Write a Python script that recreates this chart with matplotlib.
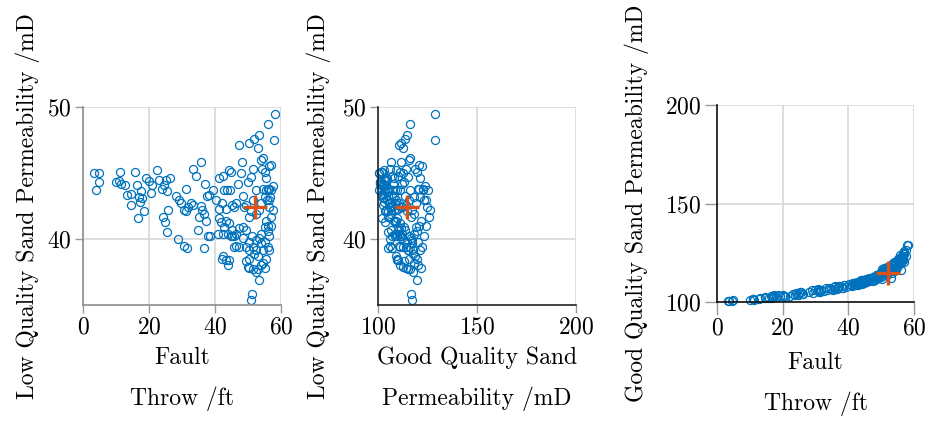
import matplotlib
matplotlib.use("Agg")
import matplotlib.pyplot as plt

plt.rcParams['font.family'] = 'serif'
plt.rcParams['font.serif'] = ['cmr10', 'DejaVu Serif']
plt.rcParams['axes.formatter.use_mathtext'] = True
plt.rcParams['font.size'] = 17

# fault throw (ft), low quality sand perm (mD), good quality sand perm (mD)
throw = [3.3, 4.7, 4.9, 3.8, 9.9, 10.9, 11.4, 11.1, 12.8, 13.2,
         14.5, 14.5, 15.7, 16.5, 17.0, 17.5, 18.0, 17.3, 16.7, 18.5,
         19.2, 20.0, 20.8, 20.5, 22.3, 23.1, 23.9, 25.1, 24.6, 25.6,
         26.3, 24.1, 24.8, 25.9, 25.4, 28.1, 29.1, 29.7, 31.2, 30.7,
         31.2, 31.7, 32.7, 33.2, 28.9, 30.7, 31.4, 33.4, 34.2, 35.9,
         35.7, 35.2, 36.0, 36.7, 37.0, 37.7, 38.3, 37.2, 38.0, 38.6,
         39.3, 36.7, 34.8, 40.3, 41.1, 41.3, 42.1, 42.5, 42.8, 43.3,
         44.1, 44.8, 43.5, 44.6, 45.3, 45.8, 46.3, 46.9, 47.4, 47.9,
         48.2, 48.4, 48.9, 49.4, 49.9, 50.4, 50.9, 51.4, 51.9, 52.4,
         52.9, 53.4, 53.9, 54.2, 54.6, 55.0, 55.5, 56.0, 56.5, 57.0,
         57.5, 58.0, 58.3, 56.3, 56.8, 55.7, 54.4, 55.0, 53.9, 53.2,
         52.4, 51.4, 50.9, 50.4, 56.5, 57.0, 55.5, 56.0, 55.0, 53.9,
         53.4, 52.4, 51.2, 50.4, 49.4, 48.4, 47.4, 46.3, 45.3, 44.3,
         43.3, 42.8, 41.8, 41.3, 40.8, 42.3, 43.8, 44.8, 45.8, 46.3,
         47.4, 48.4, 50.4, 51.4, 51.9, 52.9, 53.9, 55.0, 56.0, 56.5,
         55.5, 55.0, 54.4, 52.9, 52.4, 51.4, 50.4, 49.4, 50.4, 49.9,
         53.4, 53.9, 54.4, 52.4, 51.2, 50.9, 44.3, 43.3, 43.8, 45.8,
         42.3, 42.1, 45.3, 49.4, 56.5, 56.0, 57.0, 57.5, 56.5, 55.5,
         56.0, 57.0]
low_perm = [45.0, 45.0, 44.3, 43.7, 44.3, 44.4, 44.2, 45.1, 44.1, 43.3,
            43.4, 42.6, 45.1, 44.1, 43.2, 43.6, 43.1, 42.8, 41.6, 42.1,
            44.6, 44.4, 44.1, 43.5, 45.2, 44.5, 43.8, 44.5, 44.1, 43.6,
            44.6, 41.7, 41.3, 42.2, 40.5, 43.25, 42.95, 42.7, 43.8, 42.2,
            42.1, 42.4, 42.7, 42.6, 40.0, 39.5, 39.3, 45.3, 44.8, 45.8,
            42.5, 41.7, 42.2, 41.9, 44.2, 43.25, 43.3, 41.4, 40.2, 40.2,
            43.7, 39.3, 40.7, 42.95, 44.6, 42.3, 42.7, 44.8, 43.7, 42.3,
            45.2, 45.1, 43.7, 43.7, 42.6, 42.4, 42.7, 44.2, 47.1, 45.0,
            45.8, 43.25, 42.4, 42.6, 44.3, 47.3, 44.7, 45.3, 47.6, 43.7,
            46.9, 47.9, 46.0, 45.3, 46.1, 45.1, 44.6, 48.7, 45.5, 45.6,
            44.0, 47.5, 49.5, 43.8, 43.2, 42.95, 43.8, 43.2, 42.7, 42.2,
            41.9, 42.95, 42.1, 41.7, 42.4, 41.7, 41.4, 41.0, 40.9, 40.4,
            40.05, 39.9, 40.2, 39.8, 40.7, 40.9, 40.8, 40.4, 40.7, 41.2,
            41.4, 40.9, 41.3, 41.6, 40.4, 40.4, 40.4, 40.2, 40.2, 39.5,
            39.4, 40.05, 39.2, 39.4, 38.9, 38.7, 39.7, 39.8, 39.4, 39.2,
            38.5, 37.8, 38.2, 37.7, 37.5, 37.7, 37.8, 38.3, 38.5, 37.9,
            36.9, 38.0, 39.2, 39.2, 35.8, 35.4, 38.4, 38.4, 38.0, 39.4,
            38.7, 38.5, 40.2, 39.4, 40.2, 40.6, 41.0, 42.2, 42.95, 43.7,
            43.8, 43.7]
good_perm = [100.4, 100.6, 100.8, 100.3, 101.0, 101.4, 101.2, 101.6, 101.5, 102.2,
             101.8, 102.5, 102.0, 103.1, 102.4, 103.4, 102.6, 103.0, 102.1, 103.6,
             102.8, 103.5, 102.7, 103.2, 102.9, 104.0, 103.4, 104.6, 103.8, 105.0,
             104.3, 104.8, 103.6, 104.1, 105.3, 105.1, 104.7, 106.0, 105.4, 106.5,
             105.0, 106.2, 105.8, 106.9, 105.9, 106.3, 105.2, 106.0, 107.2, 106.5,
             107.5, 106.1, 107.9, 106.8, 107.4, 108.2, 107.0, 108.0, 106.9, 108.5,
             107.8, 107.3, 106.4, 108.9, 108.0, 109.4, 108.6, 109.9, 108.8, 110.3,
             109.3, 110.9, 109.7, 111.2, 110.1, 111.6, 110.8, 112.3, 110.5, 112.8,
             111.4, 113.5, 112.0, 114.2, 113.1, 111.5, 115.3, 114.0, 113.7, 116.4,
             112.4, 114.5, 115.6, 118.9, 116.2, 119.8, 121.0, 116.4, 122.3, 120.5,
             123.6, 128.7, 129.0, 122.8, 121.4, 124.0, 120.2, 118.4, 119.3, 117.0,
             118.0, 115.8, 114.8, 116.9, 124.7, 125.7, 121.9, 120.8, 119.1, 118.2,
             116.8, 117.4, 115.9, 114.6, 113.6, 112.9, 111.8, 112.1, 110.4, 111.0,
             109.2, 110.1, 108.7, 109.6, 108.4, 109.0, 110.5, 109.8, 111.3, 110.7,
             112.6, 111.9, 115.4, 116.2, 117.9, 118.6, 117.1, 120.4, 122.0, 121.2,
             119.6, 121.6, 118.0, 116.0, 117.7, 115.1, 114.0, 113.0, 115.7, 112.8,
             119.5, 120.1, 117.5, 115.0, 116.6, 117.3, 110.2, 109.4, 111.2, 110.9,
             108.9, 109.8, 111.5, 114.1, 123.3, 119.9, 124.3, 126.2, 123.0, 122.5,
             120.7, 125.0]

# mean values (cross marker)
mean_throw = 52.2
mean_low = 42.4
mean_good = 114.7

blue = '#0072BD'
orange = '#D95319'
grid_c = '#d4d4d4'

fig = plt.figure(figsize=(9.32, 4.24), dpi=100)
W, H = 932, 424


def make_axes(x0, x1, y0, y1):
    return fig.add_axes([x0 / W, (H - y1) / H, (x1 - x0) / W, (y1 - y0) / H])


def style(ax, spine_color, tick_len):
    ax.grid(True, color=grid_c, linewidth=1.1)
    ax.set_axisbelow(True)
    for s in ['top', 'right']:
        ax.spines[s].set_visible(False)
    for s in ['left', 'bottom']:
        ax.spines[s].set_color(spine_color)
        ax.spines[s].set_linewidth(1.2)
    ax.tick_params(direction='out', length=tick_len, width=1.0, color='#999999',
                   labelsize=17, pad=2)


def scatter(ax, x, y, mx, my):
    ax.plot(x, y, 'o', mfc='none', mec=blue, ms=5.8, mew=0.9, clip_on=False)
    ax.plot(mx, my, '+', color=orange, ms=17, mew=2.4, clip_on=False)


# panel 1: throw vs low quality perm
ax1 = make_axes(83, 281, 107, 305)
scatter(ax1, throw, low_perm, mean_throw, mean_low)
ax1.set_xlim(0, 60)
ax1.set_ylim(35, 50)
ax1.set_xticks([0, 20, 40, 60])
ax1.set_yticks([40, 50])
style(ax1, '#8c8c8c', 6)
ax1.set_xlabel('Fault\nThrow /ft', linespacing=1.95, labelpad=6)
ax1.set_ylabel('Low Quality Sand Permeability /mD', labelpad=5)

# panel 2: good vs low quality perm
ax2 = make_axes(378, 576, 107, 305)
scatter(ax2, good_perm, low_perm, mean_good, mean_low)
ax2.set_xlim(100, 200)
ax2.set_ylim(35, 50)
ax2.set_xticks([100, 150, 200])
ax2.set_yticks([40, 50])
style(ax2, '#222222', 6)
ax2.set_xlabel('Good Quality Sand\nPermeability /mD', linespacing=1.95, labelpad=6)
ax2.set_ylabel('Low Quality Sand Permeability /mD', labelpad=8)

# panel 3: throw vs good quality perm
ax3 = make_axes(717, 914, 105, 302)
scatter(ax3, throw, good_perm, mean_throw, mean_good)
ax3.set_xlim(0, 60)
ax3.set_ylim(100, 200)
ax3.set_xticks([0, 20, 40, 60])
ax3.set_yticks([100, 150, 200])
style(ax3, '#111111', 9)
ax3.set_xlabel('Fault\nThrow /ft', linespacing=1.95, labelpad=9)
ax3.set_ylabel('Good Quality Sand Permeability /mD', labelpad=12)

fig.savefig('out.png', dpi=100)
